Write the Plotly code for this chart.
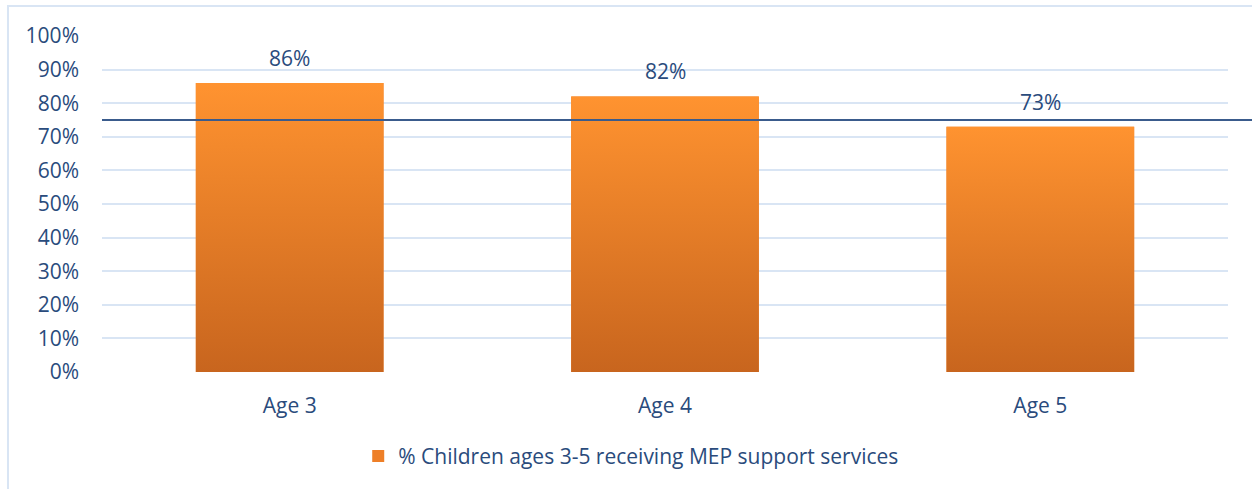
import plotly.graph_objects as go

# Chart data
categories = ["Age 3", "Age 4", "Age 5"]
values = [86, 82, 73]
target = 75
series_name = "% Children ages 3-5 receiving MEP support services"
y_ticks = [0, 10, 20, 30, 40, 50, 60, 70, 80, 90, 100]
y_tick_labels = [f"{v}%" for v in y_ticks]

TEXT = "#2A4B7C"
GRID = "#D9E5F4"
TOP = "#FF9330"
BOTTOM = "#C8651E"
FONT = "Open Sans"
SIZE = 21
BAR_W = 0.5

xs = list(range(len(categories)))

fig = go.Figure()

# Base bars (carry the legend entry and hover)
fig.add_trace(go.Bar(
    x=xs, y=values, width=BAR_W, name=series_name,
    marker=dict(color="#EE7F27", line=dict(width=0)),
    showlegend=True,
))

# Vertical gradient fill over each bar
for x, v in zip(xs, values):
    fig.add_trace(go.Scatter(
        x=[x - BAR_W / 2, x + BAR_W / 2, x + BAR_W / 2, x - BAR_W / 2, x - BAR_W / 2],
        y=[0, 0, v, v, 0],
        mode="lines", line=dict(width=0), fill="toself",
        fillgradient=dict(type="vertical", start=0, stop=v,
                          colorscale=[[0, BOTTOM], [1, TOP]]),
        hoverinfo="skip", showlegend=False,
    ))

# Value labels above the bars
for x, v in zip(xs, values):
    fig.add_annotation(x=x, y=v, text=f"{v}%", showarrow=False,
                       yanchor="bottom", yshift=9,
                       font=dict(family=FONT, size=SIZE, color=TEXT))

# Target reference line at 75%
fig.add_shape(type="line", xref="paper", yref="y",
              x0=0, x1=1.03, y0=target, y1=target,
              line=dict(color="#3A5B8C", width=2), layer="above")

# Outer chart frame
fig.add_shape(type="rect", xref="paper", yref="paper",
              x0=-0.0835, x1=1.2, y0=-0.6, y1=1.0893,
              line=dict(color=GRID, width=2), fillcolor="rgba(0,0,0,0)",
              layer="below")

fig.update_layout(
    width=1252, height=489,
    margin=dict(l=102, r=24, t=36, b=117),
    paper_bgcolor="white", plot_bgcolor="white",
    font=dict(family=FONT, color=TEXT, size=SIZE),
    showlegend=True,
    legend=dict(orientation="h", x=0.47, xanchor="center", y=-0.19, yanchor="top",
                font=dict(family=FONT, size=SIZE, color=TEXT),
                itemwidth=30, bgcolor="rgba(0,0,0,0)"),
    xaxis=dict(range=[-0.5, 2.5], tickvals=xs, ticktext=categories,
               showgrid=False, zeroline=False, showline=False, ticks="",
               ticklabelstandoff=19,
               tickfont=dict(family=FONT, size=SIZE, color=TEXT)),
    yaxis=dict(range=[0, 100], tickvals=y_ticks, ticktext=y_tick_labels,
               showgrid=True, gridcolor=GRID, gridwidth=2,
               zeroline=False, showline=False, ticks="",
               ticklabelstandoff=22,
               tickfont=dict(family=FONT, size=SIZE, color=TEXT)),
    hovermode="closest",
)

fig.write_html("out.html")
